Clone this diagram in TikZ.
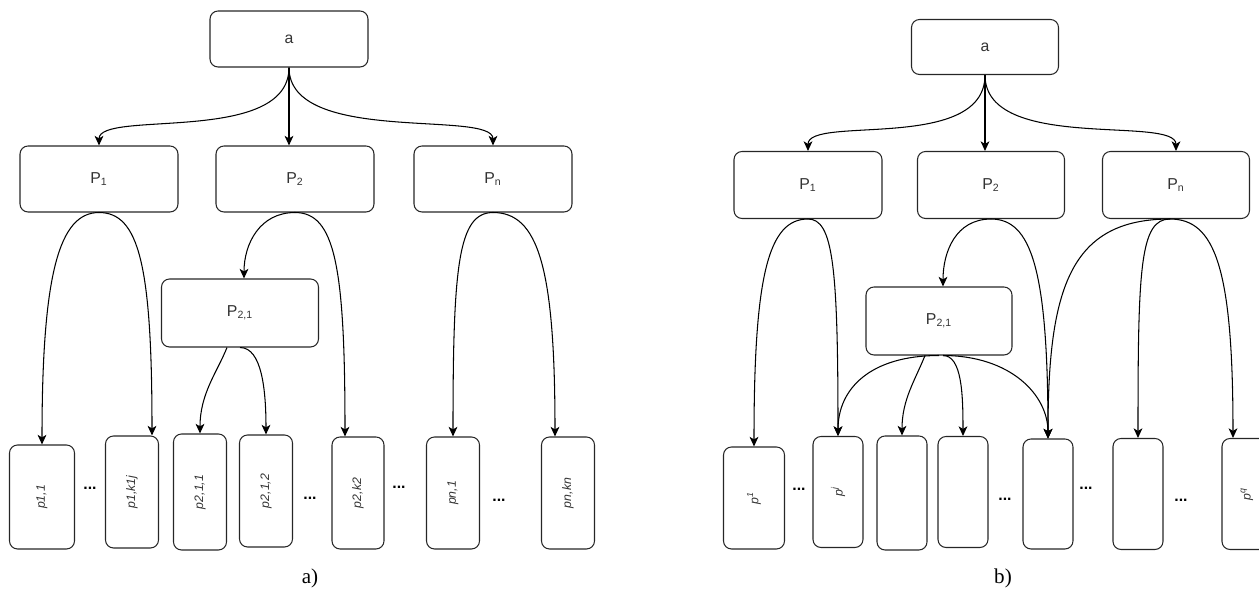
\documentclass[tikz,border=0pt]{standalone}
\usepackage{fontspec}
\setmainfont{Liberation Sans}
\newfontfamily\serifcap{Liberation Serif}
\usepackage{graphicx}
\usetikzlibrary{calc,arrows.meta}

\begin{document}
\begin{tikzpicture}[x=0.02cm,y=0.02cm,line width=0.6pt,
  >={Stealth[length=5.5pt,width=5pt,inset=1.5pt]},
  every node/.style={font=\fontsize{9}{10}\selectfont,text=black!80,align=center},
  box/.style={draw=black!85,rounded corners=0.16cm,minimum width=3.16cm,minimum height=1.32cm},
  leaf/.style={draw=black!85,rounded corners=0.16cm,minimum width=1.06cm,minimum height=2.24cm,
    inner sep=0pt,font=\fontsize{7}{8}\selectfont\itshape},
  ellip/.style={inner sep=0pt,text=black,font=\fontsize{9}{10}\selectfont\bfseries},
  panel/.style={font=\serifcap\fontsize{12}{14}\selectfont,text=black}]
\useasboundingbox (0,0) rectangle (1259,-590);

% a)
\node[box,minimum height=1.12cm] (rootA) at (289,-39) {a};
\node[box] (PA1) at (99,-179)  {P\textsubscript{1}};
\node[box] (PA2) at (295,-179) {P\textsubscript{2}};
\node[box] (PAn) at (493,-179) {P\textsubscript{n}};
\node[box,minimum width=3.14cm,minimum height=1.36cm] (PA21) at (240,-313) {P\textsubscript{2,1}};

\node[leaf,minimum width=1.3cm,minimum height=2.08cm] (pA11) at (42,-497) {\rotatebox{90}{p1,1}};
\node[leaf] (pA1k)  at (132,-492) {\rotatebox{90}{p1,k1j}};
\node[leaf,minimum height=2.32cm] (pA211) at (200,-492) {\rotatebox{90}{p2,1,1}};
\node[leaf] (pA212) at (266,-491) {\rotatebox{90}{p2,1,2}};
\node[leaf,minimum width=1.04cm] (pA2k) at (358,-493) {\rotatebox{90}{p2,k2}};
\node[leaf] (pAn1)  at (453,-493) {\rotatebox{90}{pn,1}};
\node[leaf] (pAnk)  at (568,-493) {\rotatebox{90}{pn,kn}};

\node[ellip] (dA1) at (90,-488)  {...};
\node[ellip] (dA2) at (310,-498) {...};
\node[ellip] (dA3) at (399,-487) {...};
\node[ellip] (dA4) at (499,-500) {...};

\path (rootA.south) edge[->,controls={+(0,-78) and +(0,36)}] (PA1.north);
\path (rootA.south) edge[->] (rootA.south |- PA2.north);
\path (rootA.south) edge[->,controls={+(0,-78) and +(0,36)}] (PAn.north);
\path (PA1.south) edge[->,controls={+(-40,0) and +(0,170)}] (pA11.north);
\path (PA1.south) edge[->,controls={+(40,0) and +(0,170)}] ($(pA1k.north)+(20,0)$);
\path (PA2.south) edge[->,controls={+(-35,0) and +(0,35)}] ($(PA21.north)+(4,0)$);
\path (PA2.south) edge[->,controls={+(40,0) and +(0,170)}] ($(pA2k.north)+(-13,0)$);
\path ($(PA21.south)+(-13,0)$) edge[->,controls={+(-10,-25) and +(0,40)}] (pA211.north);
\path (PA21.south) edge[->,controls={+(22,0) and +(0,44)}] (pA212.north);
\path (PAn.south) edge[->,controls={+(-35,0) and +(0,170)}] (pAn1.north);
\path (PAn.south) edge[->,controls={+(45,0) and +(0,170)}] ($(pAnk.north)+(-13,0)$);

\node[panel] (capA) at (310,-578) {a)};

% b)
\node[box,minimum width=2.94cm,minimum height=1.1cm] (rootB) at (985,-47) {a};
\node[box,minimum width=2.96cm,minimum height=1.34cm] (PB1) at (808,-185)  {P\textsubscript{1}};
\node[box,minimum width=2.94cm,minimum height=1.34cm] (PB2) at (991,-185)  {P\textsubscript{2}};
\node[box,minimum width=2.94cm,minimum height=1.34cm] (PBn) at (1176,-185) {P\textsubscript{n}};
\node[box,minimum width=2.92cm,minimum height=1.36cm] (PB21) at (939,-321) {P\textsubscript{2,1}};

\node[leaf,minimum width=1.22cm,minimum height=2.04cm] (pB1) at (754,-498) {\rotatebox{90}{p\textsuperscript{1}}};
\node[leaf,minimum width=1cm,minimum height=2.22cm] (pBj) at (838,-492)  {\rotatebox{90}{p\textsuperscript{j}}};
\node[leaf,minimum width=1cm,minimum height=2.28cm] (pB3) at (902,-493)  {};
\node[leaf,minimum width=1cm,minimum height=2.22cm] (pB4) at (963,-492)  {};
\node[leaf,minimum width=1cm,minimum height=2.2cm]  (pB5) at (1048,-494) {};
\node[leaf,minimum width=1cm,minimum height=2.22cm] (pB6) at (1138,-494) {};
\node[leaf,minimum width=1cm,minimum height=2.22cm] (pBq) at (1247,-494) {\rotatebox{90}{p\textsuperscript{q}}};

\node[ellip] (dB1) at (799,-489)  {...};
\node[ellip] (dB2) at (1005,-499) {...};
\node[ellip] (dB3) at (1086,-488) {...};
\node[ellip] (dB4) at (1181,-500) {...};

\path (rootB.south) edge[->,controls={+(0,-78) and +(0,36)}] (PB1.north);
\path (rootB.south) edge[->] (rootB.south |- PB2.north);
\path (rootB.south) edge[->,controls={+(0,-78) and +(0,36)}] (PBn.north);
\path (PB1.south) edge[->,controls={+(-40,0) and +(0,170)}] (pB1.north);
\path (PB1.south) edge[->,controls={+(25,0) and +(0,170)}] (pBj.north);
\path (PB2.south) edge[->,controls={+(-35,0) and +(0,35)}] ($(PB21.north)+(4,0)$);
\path (PB2.south) edge[->,controls={+(40,0) and +(0,170)}] (pB5.north);
\path ($(PBn.south)+(-6,0)$) edge[->,controls={+(-100,0) and +(0,150)}] (pB5.north);
\path ($(PBn.south)+(-6,0)$) edge[->,controls={+(-30,0) and +(0,170)}] (pB6.north);
\path ($(PBn.south)+(-6,0)$) edge[->,controls={+(45,0) and +(0,170)}] ($(pBq.north)+(-14,0)$);
\path (PB21.south) edge[->,controls={+(-69,0) and +(0,47)}] (pBj.north);
\path ($(PB21.south)+(-14,0)$) edge[->,controls={+(-10,-25) and +(0,36)}] (pB3.north);
\path ($(PB21.south)+(4,0)$) edge[->,controls={+(19,0) and +(0,41)}] (pB4.north);
\path ($(PB21.south)+(4,0)$) edge[->,controls={+(67,0) and +(0,44)}] (pB5.north);

\node[panel] (capB) at (1003,-578) {b)};
\end{tikzpicture}
\end{document}
